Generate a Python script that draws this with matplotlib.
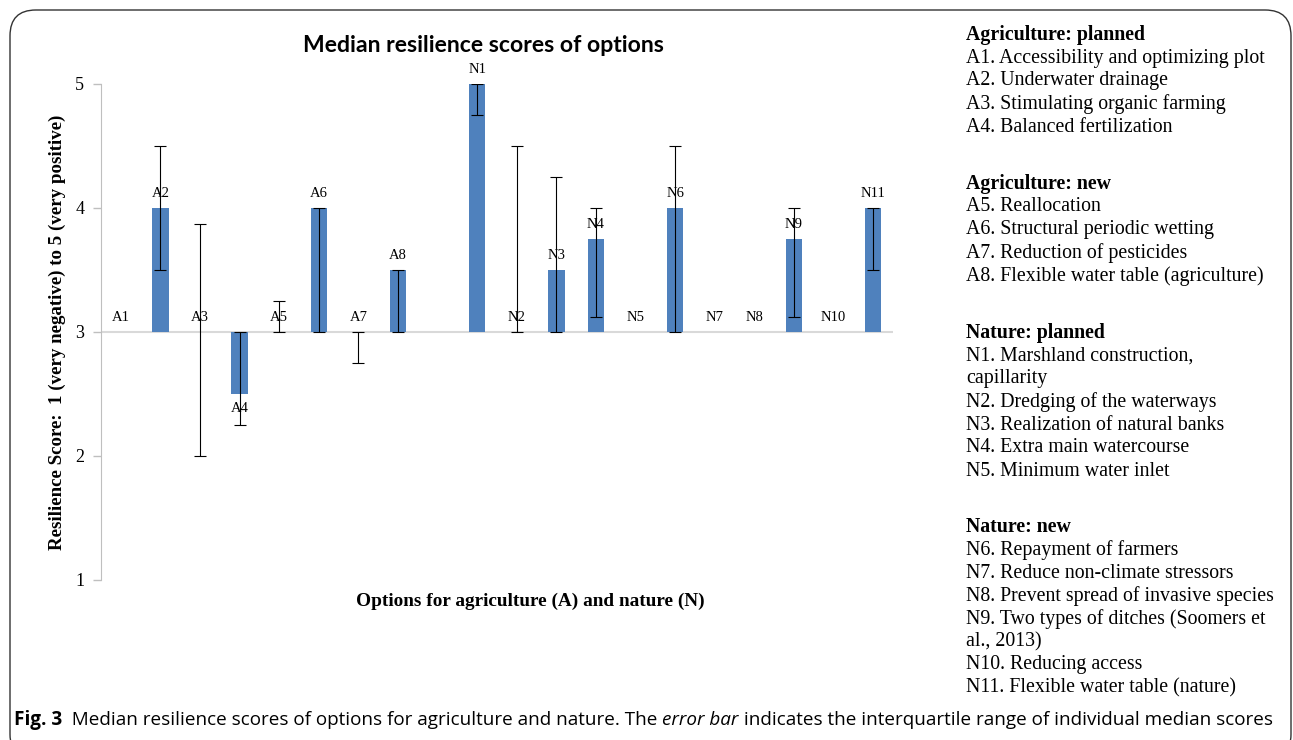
import matplotlib.pyplot as plt
import numpy as np
from matplotlib.patches import FancyBboxPatch

W, H = 1293, 740

# options and their median scores, error bar ends (interquartile range)
labels = ['A1', 'A2', 'A3', 'A4', 'A5', 'A6', 'A7', 'A8',
          'N1', 'N2', 'N3', 'N4', 'N5', 'N6', 'N7', 'N8', 'N9', 'N10', 'N11']
median = [3, 4, 3, 2.5, 3, 4, 3, 3.5,
          5, 3, 3.5, 3.75, 3, 4, 3, 3, 3.75, 3, 4]
iqr_low = [3, 3.5, 2, 2.25, 3, 3, 2.75, 3,
           4.75, 3, 3, 3.125, 3, 3, 3, 3, 3.125, 3, 3.5]
iqr_high = [3, 4.5, 3.875, 3, 3.25, 4, 3, 3.5,
            5, 4.5, 4.25, 4, 3, 4.5, 3, 3, 4, 3, 4]
# slot index of each option (one empty slot between A and N)
slots = [0, 1, 2, 3, 4, 5, 6, 7,
         9, 10, 11, 12, 13, 14, 15, 16, 17, 18, 19]

legend_lines = [
    ('Agriculture: planned', True, 35),
    ('A1. Accessibility and optimizing plot', False, 58),
    ('A2. Underwater drainage', False, 81),
    ('A3. Stimulating organic farming', False, 104),
    ('A4. Balanced fertilization', False, 127),
    ('Agriculture: new', True, 184),
    ('A5. Reallocation', False, 207),
    ('A6. Structural periodic wetting', False, 230),
    ('A7. Reduction of pesticides', False, 253),
    ('A8. Flexible water table (agriculture)', False, 276),
    ('Nature: planned', True, 333),
    ('N1. Marshland construction,', False, 356),
    ('capillarity', False, 379),
    ('N2. Dredging of the waterways', False, 402),
    ('N3. Realization of natural banks', False, 425),
    ('N4. Extra main watercourse', False, 448),
    ('N5. Minimum water inlet', False, 471),
    ('Nature: new', True, 527),
    ('N6. Repayment of farmers', False, 550),
    ('N7. Reduce non-climate stressors', False, 573),
    ('N8. Prevent spread of invasive species', False, 596),
    ('N9. Two types of ditches (Soomers et', False, 619),
    ('al., 2013)', False, 642),
    ('N10. Reducing access', False, 665),
    ('N11. Flexible water table (nature)', False, 688),
]

caption = [('Fig. 3', 'bold', 'normal'),
           ('  Median resilience scores of options for agriculture and nature. The ', 'normal', 'normal'),
           ('error bar', 'normal', 'italic'),
           (' indicates the interquartile range of individual median scores', 'normal', 'normal')]

def fx(x):
    return x / W

def fy(y):
    return 1 - y / H

serif = 'Liberation Serif'
bar_col = '#4f81bd'
grey = '#bfbfbf'

fig = plt.figure(figsize=(W / 100, H / 100), dpi=100)
ax = fig.add_axes([fx(101), fy(580), fx(893) - fx(101), fy(84) - fy(580)])

med = np.array(median)
lo = np.array(iqr_low)
hi = np.array(iqr_high)
x = np.array(slots)

ax.bar(x, med - 3, bottom=3, width=0.41, color=bar_col, zorder=2)
ax.axhline(3, color='#d9d9d9', lw=1.5, zorder=1)

has_err = (hi - lo) > 0
ax.errorbar(x[has_err], med[has_err],
            yerr=[med[has_err] - lo[has_err], hi[has_err] - med[has_err]],
            fmt='none', ecolor='black', elinewidth=0.8, capsize=4,
            capthick=0.8, zorder=3)

for xi, m, lab in zip(x, med, labels):
    if m < 3:
        ax.annotate(lab, (xi, m), xytext=(0, -6), textcoords='offset points',
                    ha='center', va='top', fontsize=10.5, family=serif)
    else:
        ax.annotate(lab, (xi, m), xytext=(0, 6), textcoords='offset points',
                    ha='center', va='bottom', fontsize=10.5, family=serif)

ax.set_xlim(-0.5, 19.5)
ax.set_ylim(1, 5)
ax.set_yticks([1, 2, 3, 4, 5])
ax.set_xticks([])
for s in ['top', 'right', 'bottom']:
    ax.spines[s].set_visible(False)
ax.spines['left'].set_color(grey)
ax.tick_params(axis='y', colors=grey, length=6, width=1, labelcolor='black',
               labelsize=13, pad=6)
for t in ax.get_yticklabels():
    t.set_family(serif)

fig.text(fx(483), fy(45), 'Median resilience scores of options', ha='center',
         va='center', fontsize=16.6, fontweight='bold', family='Lato')
fig.text(fx(57), fy(332), 'Resilience Score:  1 (very negative) to 5 (very positive)',
         rotation=90, ha='center', va='center', fontsize=13.6,
         fontweight='bold', family=serif)
fig.text(fx(530), fy(601), 'Options for agriculture (A) and nature (N)',
         ha='center', va='center', fontsize=13.9, fontweight='bold', family=serif)

for txt, bold, yy in legend_lines:
    fig.text(fx(966), fy(yy), txt, ha='left', va='center', fontsize=14.3,
             family=serif, fontweight='bold' if bold else 'normal')

# caption built from pieces, sized to span the reference width
r = fig.canvas.get_renderer()

def put_caption(size, keep):
    cx = 14
    made = []
    for txt, wt, st in caption:
        t = fig.text(fx(cx), fy(720), txt, ha='left', va='center', fontsize=size,
                     family='Open Sans', fontweight=wt, fontstyle=st)
        cx += t.get_window_extent(renderer=r).width
        made.append(t)
    if not keep:
        for t in made:
            t.remove()
    return cx - 14

total = put_caption(12, False)
put_caption(12 * 1251 / total, True)

box = FancyBboxPatch((fx(10), fy(760)), fx(1281), fy(10) - fy(760),
                     boxstyle='round,pad=0,rounding_size=0.02',
                     transform=fig.transFigure, fill=False,
                     edgecolor='#333333', lw=1.0, mutation_aspect=W / H)
fig.patches.append(box)

fig.savefig('out.png', dpi=100)
